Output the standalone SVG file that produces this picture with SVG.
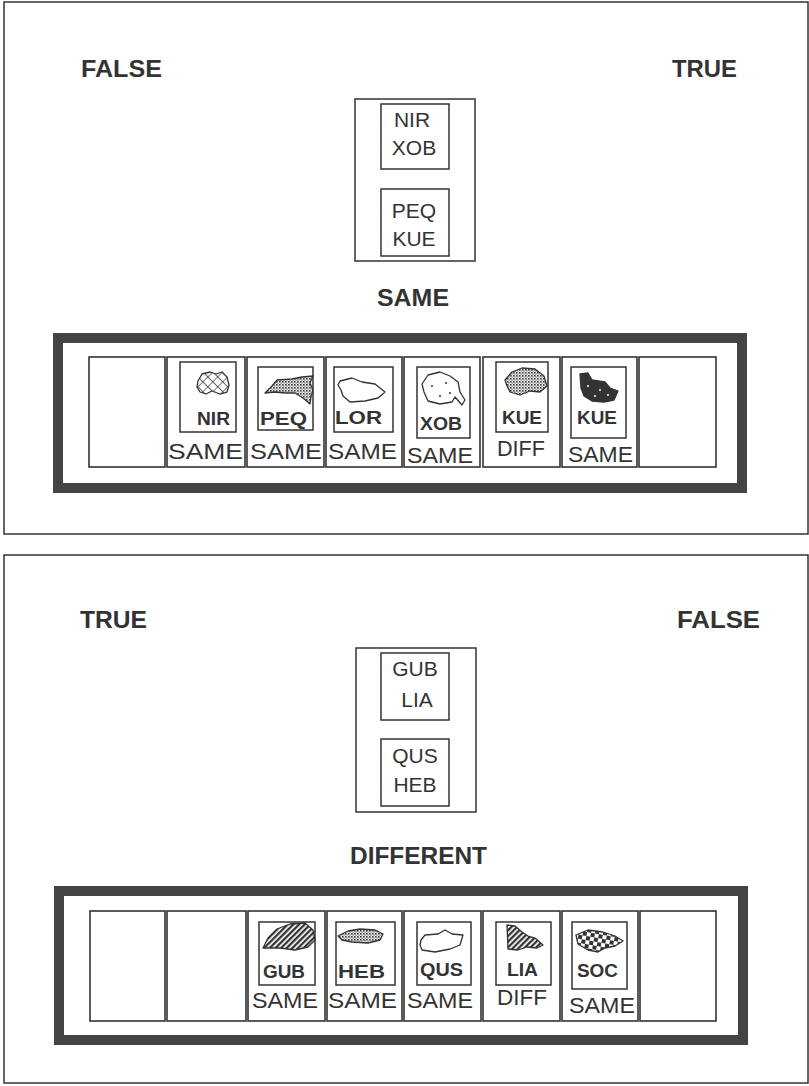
<svg xmlns="http://www.w3.org/2000/svg" width="809" height="1086" viewBox="0 0 809 1086">
<defs>
<pattern id="hatchX" width="7" height="7" patternUnits="userSpaceOnUse" patternTransform="rotate(45)">
<rect width="7" height="7" fill="#fff"/>
<path d="M0,0 H7 M0,0 V7" stroke="#333" stroke-width="1.3"/>
</pattern>
<pattern id="dots" width="3" height="3" patternUnits="userSpaceOnUse">
<rect width="3" height="3" fill="#fff"/>
<rect x="0" y="0" width="1.6" height="1.6" fill="#333"/>
<rect x="1.5" y="1.5" width="1.2" height="1.2" fill="#555"/>
</pattern>
<pattern id="stripes" width="4" height="4" patternUnits="userSpaceOnUse" patternTransform="rotate(45)">
<rect width="4" height="4" fill="#fff"/>
<rect width="2.3" height="4" fill="#333"/>
</pattern>
<pattern id="checker" width="8" height="8" patternUnits="userSpaceOnUse" patternTransform="rotate(10)">
<rect width="8" height="8" fill="#fff"/>
<rect width="4" height="4" fill="#333"/>
<rect x="4" y="4" width="4" height="4" fill="#333"/>
</pattern>
</defs>
<style>
.panel{fill:#fff;stroke:#333;stroke-width:1.5}
.box{fill:#fff;stroke:#333;stroke-width:1.5}
.frame{fill:none;stroke:#444;stroke-width:10}
.cell{fill:#fff;stroke:#333;stroke-width:1.6}
.ibox{fill:#fff;stroke:#333;stroke-width:1.5}
.head{font-family:"Liberation Sans",Arial,sans-serif;font-weight:bold;font-size:23px;fill:#333}
.word{font-family:"Liberation Sans",Arial,sans-serif;font-size:21px;fill:#333;text-anchor:middle}
.lab{font-family:"Liberation Sans",Arial,sans-serif;font-weight:bold;font-size:18px;fill:#333}
.res{font-family:"Liberation Sans",Arial,sans-serif;font-size:22px;fill:#333}
.shape{stroke:#333;stroke-width:1.3;stroke-linejoin:round}
</style>
<rect width="809" height="1086" fill="#fff"/>

<g id="panel1">
<rect class="panel" x="4" y="2" width="804" height="532"/>
<text class="head" x="81" y="77" textLength="81" lengthAdjust="spacingAndGlyphs">FALSE</text>
<text class="head" x="672" y="77" textLength="65" lengthAdjust="spacingAndGlyphs">TRUE</text>
<g id="pairs1">
<rect class="box" x="355" y="99" width="120" height="162"/>
<rect class="ibox" x="381" y="104" width="68" height="65"/>
<text class="word" x="412" y="127">NIR</text>
<text class="word" x="414" y="155">XOB</text>
<rect class="ibox" x="381" y="189" width="68" height="67"/>
<text class="word" x="414" y="218">PEQ</text>
<text class="word" x="414" y="246">KUE</text>
</g>
<text class="head" x="377" y="306" textLength="72" lengthAdjust="spacingAndGlyphs">SAME</text>
<g id="strip1">
<rect class="frame" x="58" y="338" width="684" height="150"/>
<rect class="cell" x="89" y="357" width="76" height="110"/>
<rect class="cell" x="167" y="357" width="78" height="110"/>
<rect class="cell" x="247" y="357" width="77" height="110"/>
<rect class="cell" x="326" y="357" width="76" height="110"/>
<rect class="cell" x="404" y="357" width="76" height="110"/>
<rect class="cell" x="483" y="357" width="77" height="110"/>
<rect class="cell" x="562" y="357" width="75" height="110"/>
<rect class="cell" x="639" y="357" width="77" height="110"/>
</g>
<g id="card-nir">
<rect class="ibox" x="180" y="362" width="56" height="70"/>
<path class="shape" fill="url(#hatchX)" d="M198,381 L202,374 L210,372 L216,374 L222,372 L227,377 L229,385 L227,392 L220,394 L212,391 L206,394 L200,392 L197,387 Z"/>
<text class="lab" x="197" y="425" textLength="33" lengthAdjust="spacingAndGlyphs">NIR</text>
<text class="res" x="168" y="459" textLength="75" lengthAdjust="spacingAndGlyphs">SAME</text>
</g>
<g id="card-peq">
<rect class="ibox" x="258" y="367" width="55" height="63"/>
<path class="shape" fill="url(#dots)" d="M265,393 L272,386 L277,380 L292,379 L302,377 L313,376 L310,383 L313,390 L311,397 L310,404 L303,398 L295,393 L285,393 L275,392 Z"/>
<text class="lab" x="260" y="425" textLength="47" lengthAdjust="spacingAndGlyphs">PEQ</text>
<text class="res" x="250" y="459" textLength="72" lengthAdjust="spacingAndGlyphs">SAME</text>
</g>
<g id="card-lor">
<rect class="ibox" x="334" y="367" width="59" height="65"/>
<path class="shape" fill="#fff" d="M340,381 L352,378 L362,382 L375,384 L385,392 L378,398 L365,401 L350,402 L343,396 L341,390 L338,385 Z"/>
<text class="lab" x="335" y="424" textLength="47" lengthAdjust="spacingAndGlyphs">LOR</text>
<text class="res" x="328" y="459" textLength="69" lengthAdjust="spacingAndGlyphs">SAME</text>
</g>
<g id="card-xob">
<rect class="ibox" x="417" y="367" width="53" height="71"/>
<path class="shape" fill="#fff" d="M428,375 L440,372 L450,376 L458,382 L460,392 L465,400 L462,405 L455,397 L452,402 L440,404 L428,401 L424,392 L422,384 Z"/>
<circle cx="432" cy="386" r="1" fill="#333"/><circle cx="446" cy="383" r="1" fill="#333"/><circle cx="440" cy="396" r="1" fill="#333"/><circle cx="450" cy="393" r="1" fill="#333"/>
<text class="lab" x="420" y="430" textLength="42" lengthAdjust="spacingAndGlyphs">XOB</text>
<text class="res" x="407" y="463" textLength="66" lengthAdjust="spacingAndGlyphs">SAME</text>
</g>
<g id="card-kue-diff">
<rect class="ibox" x="496" y="362" width="52" height="70"/>
<path class="shape" fill="url(#dots)" d="M505,380 L512,372 L522,368 L535,369 L544,376 L547,386 L540,392 L530,391 L520,395 L510,392 L507,386 Z"/>
<text class="lab" x="502" y="424" textLength="40" lengthAdjust="spacingAndGlyphs">KUE</text>
<text class="res" x="497" y="456" textLength="48" lengthAdjust="spacingAndGlyphs">DIFF</text>
</g>
<g id="card-kue-same">
<rect class="ibox" x="571" y="367" width="55" height="71"/>
<path class="shape" fill="#333" d="M580,374 L588,373 L592,380 L605,382 L610,388 L618,391 L614,400 L604,402 L592,401 L584,396 L581,388 Z"/>
<circle cx="588" cy="386" r="1" fill="#fff"/><circle cx="600" cy="390" r="1" fill="#fff"/><circle cx="595" cy="396" r="1" fill="#fff"/><circle cx="608" cy="395" r="1" fill="#fff"/>
<text class="lab" x="577" y="424" textLength="40" lengthAdjust="spacingAndGlyphs">KUE</text>
<text class="res" x="568" y="462" textLength="65" lengthAdjust="spacingAndGlyphs">SAME</text>
</g>
</g>

<g id="panel2">
<rect class="panel" x="4" y="555" width="804" height="528"/>
<text class="head" x="80" y="628" textLength="67" lengthAdjust="spacingAndGlyphs">TRUE</text>
<text class="head" x="677" y="628" textLength="83" lengthAdjust="spacingAndGlyphs">FALSE</text>
<g id="pairs2">
<rect class="box" x="356" y="648" width="120" height="164"/>
<rect class="ibox" x="381" y="653" width="68" height="67"/>
<text class="word" x="415" y="676">GUB</text>
<text class="word" x="417" y="707">LIA</text>
<rect class="ibox" x="381" y="739" width="68" height="67"/>
<text class="word" x="415" y="763">QUS</text>
<text class="word" x="415" y="792">HEB</text>
</g>
<text class="head" x="350" y="864" textLength="137" lengthAdjust="spacingAndGlyphs">DIFFERENT</text>
<g id="strip2">
<rect class="frame" x="59" y="891" width="684" height="149"/>
<rect class="cell" x="90" y="911" width="75" height="110"/>
<rect class="cell" x="167" y="911" width="79" height="110"/>
<rect class="cell" x="248" y="911" width="77" height="110"/>
<rect class="cell" x="327" y="911" width="75" height="110"/>
<rect class="cell" x="404" y="911" width="77" height="110"/>
<rect class="cell" x="483" y="911" width="77" height="110"/>
<rect class="cell" x="562" y="911" width="76" height="110"/>
<rect class="cell" x="640" y="911" width="76" height="110"/>
</g>
<g id="card-gub">
<rect class="ibox" x="259" y="922" width="56" height="63"/>
<path class="shape" fill="url(#stripes)" d="M263,948 L268,938 L277,929 L290,924 L305,923 L313,930 L315,940 L308,947 L295,950 L280,948 Z"/>
<text class="lab" x="263" y="978" textLength="42" lengthAdjust="spacingAndGlyphs">GUB</text>
<text class="res" x="252" y="1008" textLength="66" lengthAdjust="spacingAndGlyphs">SAME</text>
</g>
<g id="card-heb">
<rect class="ibox" x="336" y="922" width="59" height="63"/>
<path class="shape" fill="url(#dots)" d="M338,936 L348,931 L360,929 L375,930 L383,934 L380,940 L368,943 L352,942 L342,940 Z"/>
<text class="lab" x="338" y="978" textLength="47" lengthAdjust="spacingAndGlyphs">HEB</text>
<text class="res" x="328" y="1008" textLength="69" lengthAdjust="spacingAndGlyphs">SAME</text>
</g>
<g id="card-qus">
<rect class="ibox" x="417" y="922" width="54" height="63"/>
<path class="shape" fill="#fff" d="M421,940 L425,935 L438,934 L445,930 L452,934 L463,935 L460,945 L450,949 L435,952 L422,950 L420,945 Z"/>
<text class="lab" x="420" y="976" textLength="43" lengthAdjust="spacingAndGlyphs">QUS</text>
<text class="res" x="407" y="1008" textLength="66" lengthAdjust="spacingAndGlyphs">SAME</text>
</g>
<g id="card-lia">
<rect class="ibox" x="496" y="922" width="55" height="63"/>
<path class="shape" fill="url(#stripes)" d="M507,925 L515,926 L522,932 L528,936 L535,938 L543,945 L537,948 L527,947 L518,950 L508,949 Z"/>
<text class="lab" x="507" y="976" textLength="31" lengthAdjust="spacingAndGlyphs">LIA</text>
<text class="res" x="497" y="1005" textLength="50" lengthAdjust="spacingAndGlyphs">DIFF</text>
</g>
<g id="card-soc">
<rect class="ibox" x="572" y="922" width="55" height="67"/>
<path class="shape" fill="url(#checker)" d="M576,935 L588,930 L603,932 L615,936 L623,941 L615,946 L605,948 L598,952 L588,950 L578,944 Z"/>
<text class="lab" x="577" y="977" textLength="41" lengthAdjust="spacingAndGlyphs">SOC</text>
<text class="res" x="569" y="1013" textLength="66" lengthAdjust="spacingAndGlyphs">SAME</text>
</g>
</g>
<g id="connectors"/>
</svg>
